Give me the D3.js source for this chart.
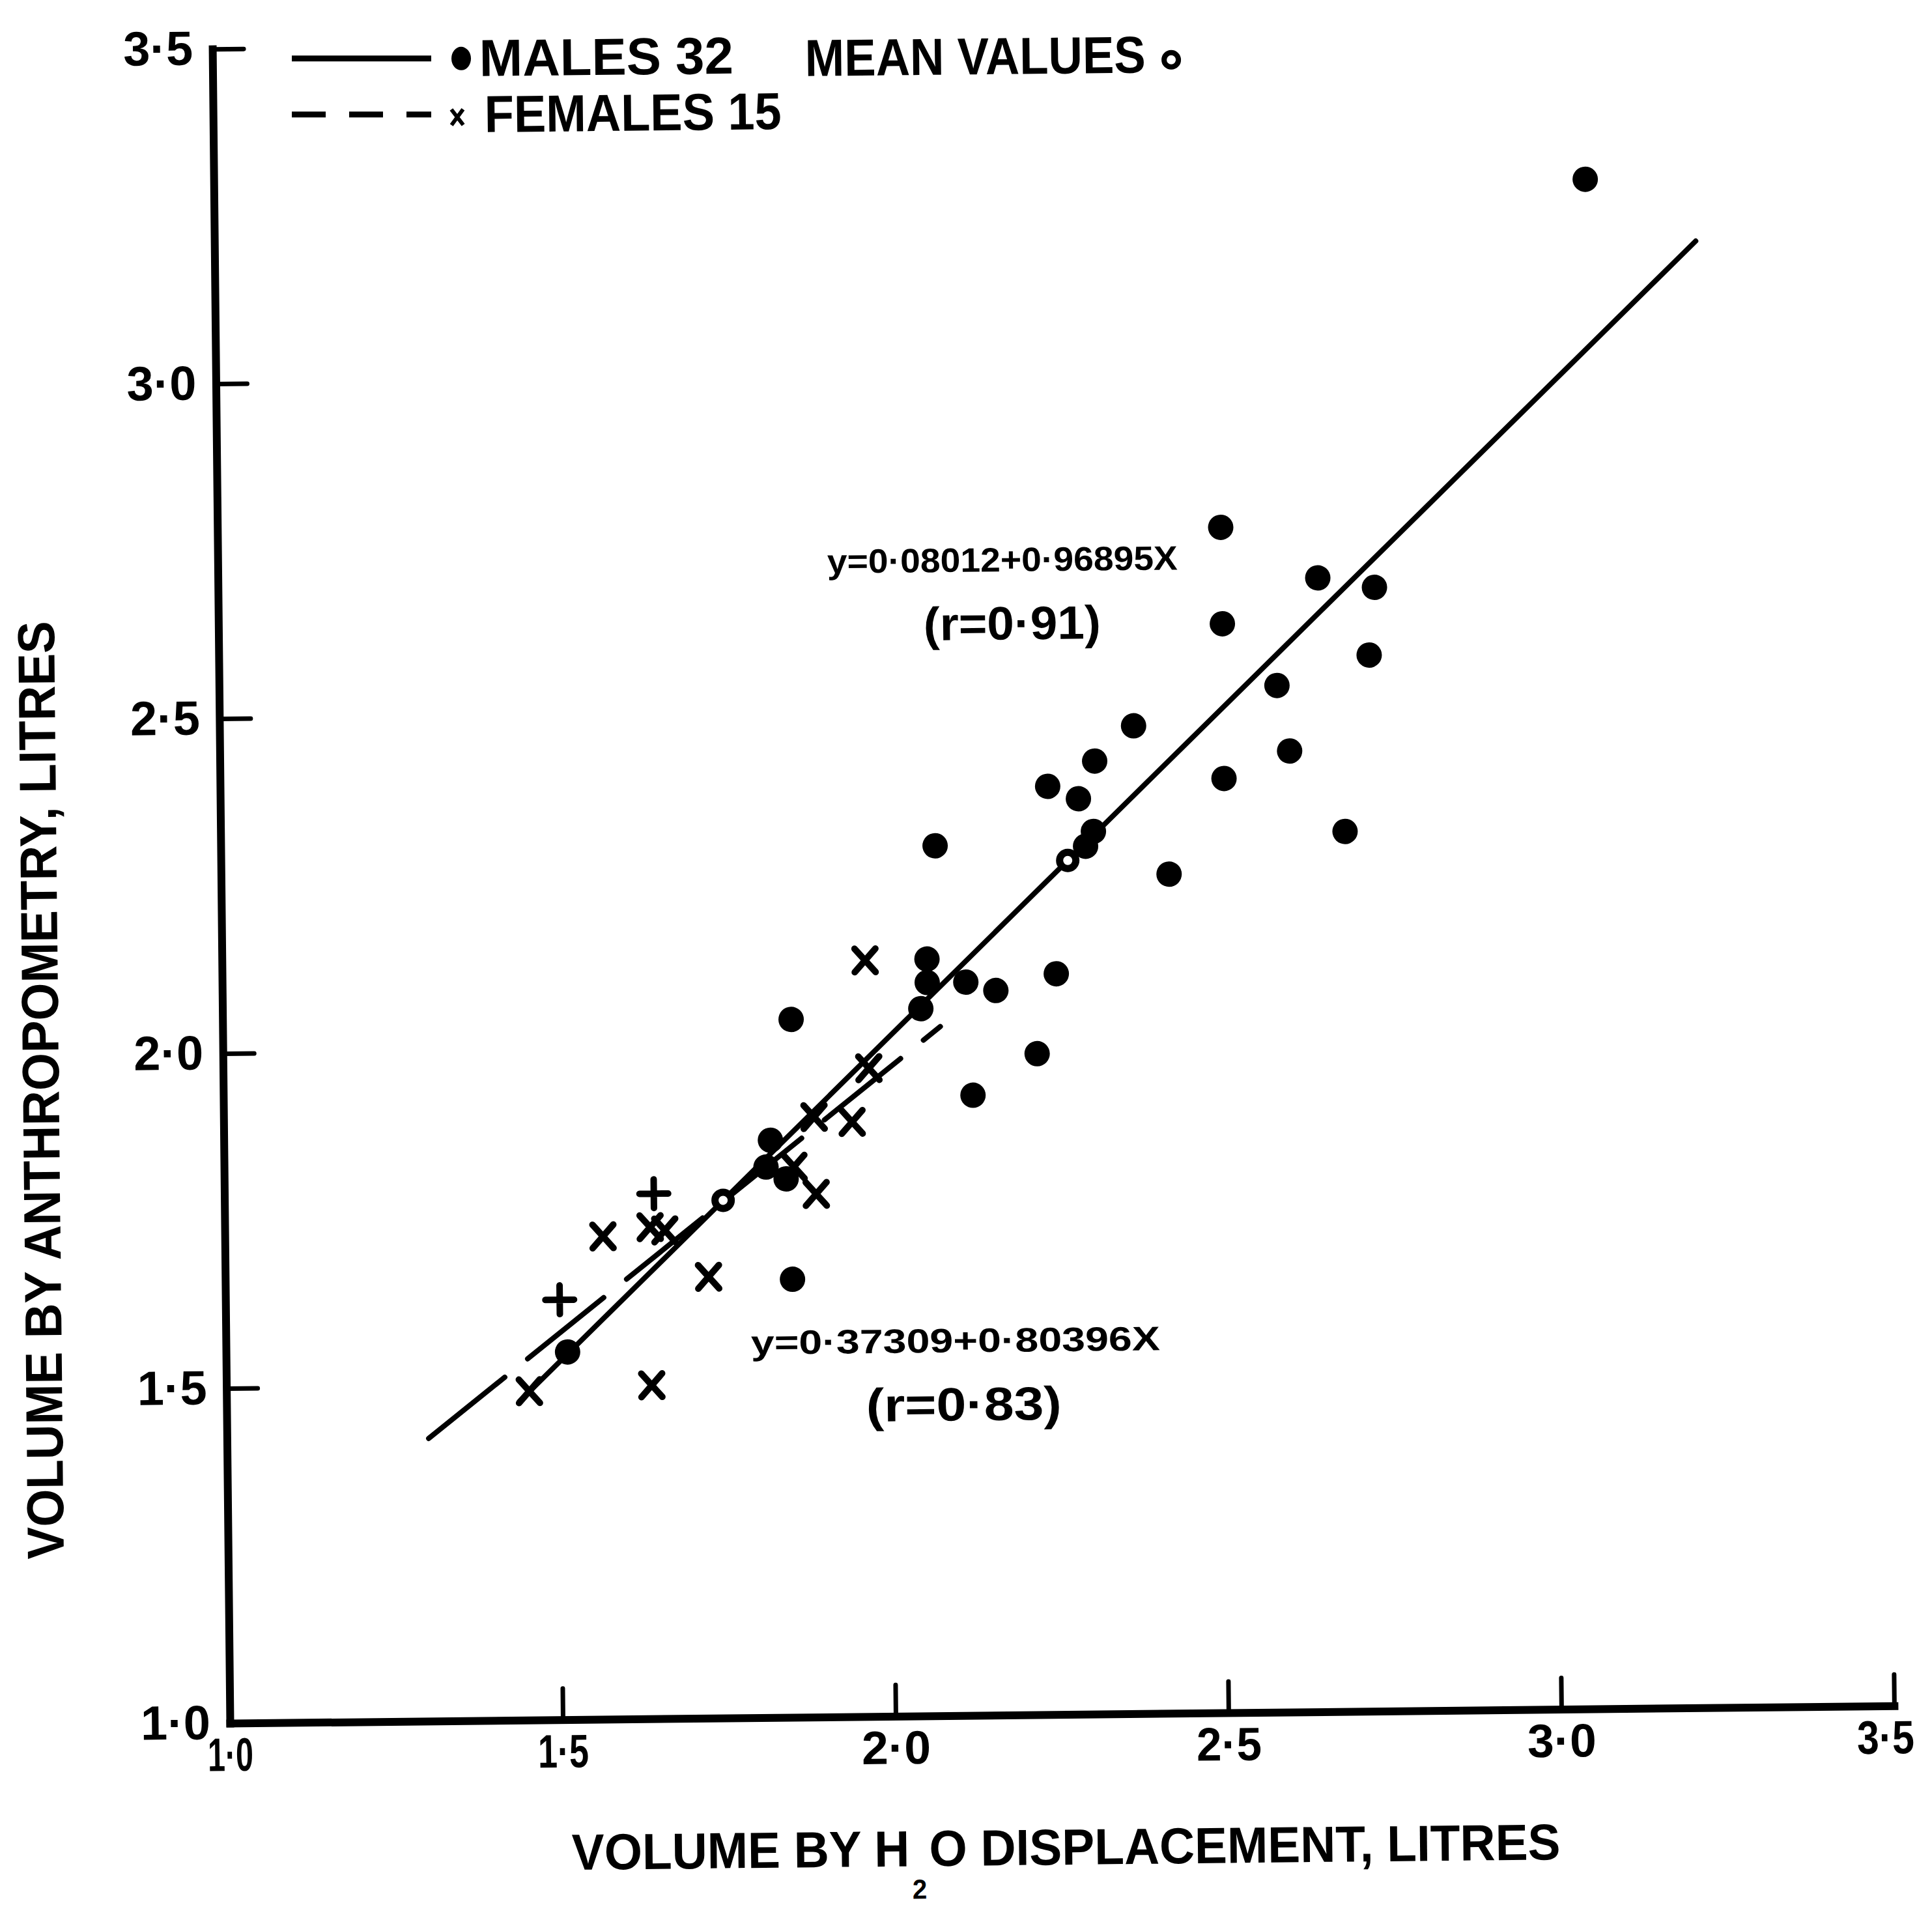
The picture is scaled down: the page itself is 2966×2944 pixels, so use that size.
<!DOCTYPE html>
<html><head><meta charset="utf-8">
<script src="https://cdn.jsdelivr.net/npm/d3@7"></script>
<style>html,body{margin:0;padding:0;background:#fff;} svg{display:block}</style>
</head><body>
<script>
// ---------------- data ----------------
const males = [
  [3.060,3.284],[2.507,2.770],[2.652,2.693],[2.737,2.678],[2.508,2.626],
  [2.728,2.577],[2.589,2.533],[2.373,2.475],[2.607,2.435],[2.314,2.423],
  [2.243,2.386],[2.289,2.367],[2.508,2.395],[2.311,2.318],[2.299,2.296],
  [2.689,2.314],[2.424,2.253],[2.073,2.299],[2.059,2.130],[2.059,2.095],
  [2.117,2.095],[2.162,2.082],[2.253,2.106],[2.049,2.056],[2.223,1.987],
  [2.126,1.926],[1.854,2.042],[1.821,1.862],[1.814,1.822],[1.844,1.804],
  [1.852,1.654],[1.513,1.549]
];
const females = [
  [1.966,2.129],[1.970,1.968],[1.887,1.896],[1.944,1.888],[1.856,1.822],
  [1.889,1.781],[1.639,1.734],[1.661,1.729],[1.568,1.721],[1.726,1.659],
  [1.455,1.491],[1.639,1.498]
];
const femalesPlus = [[1.645,1.784],[1.502,1.627]];
const meanValues = [[2.272,2.275],[1.749,1.773]];
const maleFit = [[1.44,1.476],[3.225,3.19]];
const femaleFit = [[1.303,1.422],[2.078,2.029]];
const xTickValues = [1,1.5,2,2.5,3,3.5];
const yTickValues = [1,1.5,2,2.5,3,3.5];
const tickLabels = ["1·0","1·5","2·0","2·5","3·0","3·5"];
const legendLabels = ["MALES 32","MEAN VALUES","FEMALES 15"];
const equationTexts = ["y=0·08012+0·96895X","(r=0·91)","y=0·37309+0·80396X","(r=0·83)"];
const xTitleParts = ["VOLUME BY H","2","O DISPLACEMENT, LITRES"];
const yTitle = "VOLUME BY ANTHROPOMETRY, LITRES";

// ---------------- layout ----------------
const W = 2966, H = 2944;
const ox = 353, oy = 2645;
const tilt = 0.6;                       // scan rotation (deg, counter-clockwise)
const s = Math.sin(tilt * Math.PI / 180);
const FONT = "'Liberation Sans', Arial, sans-serif";
const xLabelWidths = [70, 78, 106, 100, 106, 88];
const xLabelShift = [0, 0, 0, 0, 0, -14];
function U(px, py) { const dx = px - ox, dy = py - oy; return [ox + dx - dy * s, oy + dy + dx * s]; }

const x = d3.scaleLinear().domain([1, 3.5]).range([ox, ox + 2.5 * 1022]);
const y = d3.scaleLinear().domain([1, 3.5]).range([oy, oy - 2.5 * 1028]);

const svg = d3.select("body").append("svg").attr("width", W).attr("height", H)
  .attr("viewBox", `0 0 ${W} ${H}`);
svg.append("rect").attr("width", W).attr("height", H).attr("fill", "#fff");
const g = svg.append("g").attr("transform", `rotate(${-tilt},${ox},${oy})`);

// axes
const yAxis = d3.axisLeft(y).tickValues(yTickValues).tickFormat((d, i) => tickLabels[i])
  .tickSize(-48).tickSizeOuter(0).tickPadding(30);
const xAxis = d3.axisBottom(x).tickValues(xTickValues).tickFormat((d, i) => tickLabels[i])
  .tickSize(-48).tickSizeOuter(0).tickPadding(22);

const gy = g.append("g").attr("transform", `translate(${ox},0)`).call(yAxis);
const gx = g.append("g").attr("transform", `translate(0,${oy})`).call(xAxis);
[gx, gy].forEach(a => {
  a.attr("font-family", null).attr("font-size", null);
  a.select(".domain").attr("stroke", "#000").attr("stroke-width", 12).attr("stroke-linecap", "square");
  a.selectAll(".tick line").attr("stroke", "#000").attr("stroke-width", 7).attr("stroke-linecap", "round");
  a.selectAll(".tick text").attr("fill", "#000").style("font-family", FONT)
    .style("font-weight", "bold");
});
gy.selectAll(".tick text").style("font-size", "74px");
gx.selectAll(".tick text").style("font-size", "72px")
  .attr("x", (d, i) => xLabelShift[i])
  .attr("textLength", (d, i) => xLabelWidths[i]).attr("lengthAdjust", "spacingAndGlyphs");

// regression lines
const line = d3.line().x(d => x(d[0])).y(d => y(d[1]));
g.append("path").attr("d", line(maleFit)).attr("fill", "none").attr("stroke", "#000")
  .attr("stroke-width", 8).attr("stroke-linecap", "round");
g.append("path").attr("d", line(femaleFit)).attr("fill", "none").attr("stroke", "#000")
  .attr("stroke-width", 8).attr("stroke-dasharray", "150,45").attr("stroke-linecap", "round");

// males
g.append("g").selectAll("circle").data(males).join("circle")
  .attr("cx", d => x(d[0])).attr("cy", d => y(d[1])).attr("r", 19.5).attr("fill", "#000");

// females (x marks)
const xw = 16, xh = 18;
g.append("g").selectAll("path").data(females).join("path")
  .attr("d", d => { const cx = x(d[0]), cy = y(d[1]);
    return `M${cx - xw},${cy - xh}L${cx + xw},${cy + xh}M${cx + xw},${cy - xh}L${cx - xw},${cy + xh}`; })
  .attr("stroke", "#000").attr("stroke-width", 10).attr("stroke-linecap", "round").attr("fill", "none");
const pw = 22;
g.append("g").selectAll("path").data(femalesPlus).join("path")
  .attr("d", d => { const cx = x(d[0]), cy = y(d[1]);
    return `M${cx - pw},${cy}L${cx + pw},${cy}M${cx},${cy - pw}L${cx},${cy + pw}`; })
  .attr("stroke", "#000").attr("stroke-width", 10).attr("stroke-linecap", "round").attr("fill", "none");

// mean values
g.append("g").selectAll("circle").data(meanValues).join("circle")
  .attr("cx", d => x(d[0])).attr("cy", d => y(d[1])).attr("r", 12.5)
  .attr("fill", "#fff").attr("stroke", "#000").attr("stroke-width", 11);

// text helper
function txt(str, px, py, size, len, parent) {
  const p = U(px, py);
  const t = (parent || g).append("text").attr("x", p[0]).attr("y", p[1])
    .style("font-family", FONT).style("font-weight", "bold").style("font-size", size + "px")
    .attr("fill", "#000").text(str);
  if (len) t.attr("textLength", len).attr("lengthAdjust", "spacingAndGlyphs");
  return t;
}

// equations
txt(equationTexts[0], 1270, 880, 52, 538);
txt(equationTexts[1], 1418, 983, 72, 272);
txt(equationTexts[2], 1153, 2079, 52, 628);
txt(equationTexts[3], 1330, 2182, 72, 300);

// legend
const L1 = U(448, 90), L1b = U(662, 90);
g.append("line").attr("x1", L1[0]).attr("y1", L1[1]).attr("x2", L1b[0]).attr("y2", L1b[1])
  .attr("stroke", "#000").attr("stroke-width", 9);
const L2 = U(448, 176), L2b = U(662, 176);
g.append("line").attr("x1", L2[0]).attr("y1", L2[1]).attr("x2", L2b[0]).attr("y2", L2b[1])
  .attr("stroke", "#000").attr("stroke-width", 9).attr("stroke-dasharray", "52,36");
const dotP = U(708, 90);
g.append("ellipse").attr("cx", dotP[0]).attr("cy", dotP[1]).attr("rx", 15).attr("ry", 18).attr("fill", "#000");
const xP = U(702, 180);
g.append("path").attr("d", `M${xP[0]-9},${xP[1]-12}L${xP[0]+9},${xP[1]+12}M${xP[0]+9},${xP[1]-12}L${xP[0]-9},${xP[1]+12}`)
  .attr("stroke", "#000").attr("stroke-width", 6).attr("fill", "none");
const oP = U(1798, 92);
g.append("circle").attr("cx", oP[0]).attr("cy", oP[1]).attr("r", 11).attr("fill", "#fff")
  .attr("stroke", "#000").attr("stroke-width", 8);
txt(legendLabels[0], 736, 117, 80, 390);
txt(legendLabels[1], 1236, 117, 80, 523);
txt(legendLabels[2], 744, 203, 80, 456);

// x title: three pieces laid side by side, subscript dropped below the line
{
  const p = U(878, 2870);
  const tg = g.append("g");
  const style = (t, size) => t.style("font-family", FONT).style("font-weight", "bold")
    .style("font-size", size + "px").attr("fill", "#000");
  const a = style(tg.append("text").attr("x", 0).attr("y", 0), 78).text(xTitleParts[0]);
  const wA = a.node().getComputedTextLength();
  const b = style(tg.append("text").attr("x", wA + 4).attr("y", 50), 42).text(xTitleParts[1]);
  const wB = b.node().getComputedTextLength();
  const c = style(tg.append("text").attr("x", wA + wB + 8).attr("y", 0), 78).text(xTitleParts[2]);
  const total = wA + wB + 8 + c.node().getComputedTextLength();
  tg.attr("transform", `translate(${p[0]},${p[1]}) scale(${1518 / total},1)`);
}
// y title
{
  const p = U(98, 2393);
  g.append("text").attr("transform", `translate(${p[0]},${p[1]}) rotate(-90)`)
    .style("font-family", FONT).style("font-weight", "bold").style("font-size", "80px")
    .attr("fill", "#000").attr("textLength", 1440).attr("lengthAdjust", "spacingAndGlyphs")
    .text(yTitle);
}
</script>
</body></html>
